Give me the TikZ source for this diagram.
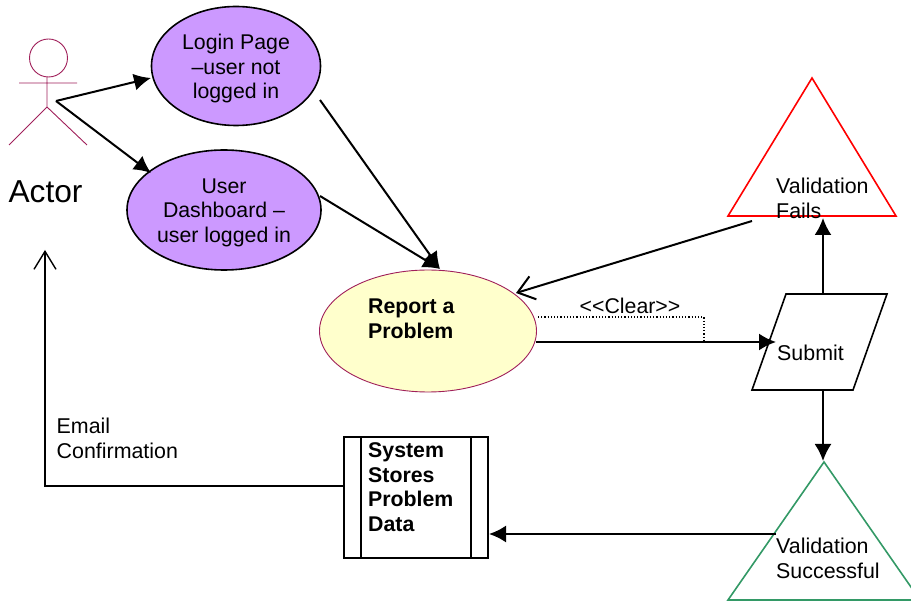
\documentclass[tikz,border=0pt]{standalone}
\usepackage{fontspec}
\setmainfont{Liberation Sans}
\usetikzlibrary{shapes.geometric,arrows.meta}
\definecolor{actorc}{HTML}{A0205A}
\definecolor{purplefill}{HTML}{CC99FF}
\definecolor{yellowfill}{HTML}{FFFFCC}
\definecolor{greenc}{HTML}{339966}
\tikzset{
  x=1pt,y=-1pt,
  txt/.style={inner sep=0pt,align=left,font=\fontsize{21.4}{24.6}\selectfont},
  ctxt/.style={inner sep=0pt,align=center,font=\fontsize{21.3}{24.6}\selectfont},
  btxt/.style={inner sep=0pt,align=left,font=\fontsize{21.3}{24.6}\selectfont\bfseries},
  usecase/.style={ellipse,draw=black,line width=1.6pt,fill=purplefill,inner sep=0pt},
  actorline/.style={draw=actorc,line width=0.9pt},
  conn/.style={draw=black,line width=2pt,-{Latex[length=17pt,width=17pt]}},
  openconn/.style={draw=black,line width=2pt,-{Straight Barb[length=16pt,width=24pt,line width=2pt]}},
}
\begin{document}
\begin{tikzpicture}
\useasboundingbox (0,0) rectangle (911,601);
% actor
\node[circle,actorline,minimum size=38pt,inner sep=0pt] (head) at (48.5,58) {};
\coordinate (neck) at (47,77);
\coordinate (hip) at (47,107);
\coordinate (armL) at (19,83);
\coordinate (armR) at (77,83);
\coordinate (footL) at (9,145);
\coordinate (footR) at (87,145);
\draw[actorline] (neck) -- (hip) (armL) -- (armR) (footL) -- (hip) -- (footR);
\node[inner sep=0pt,font=\fontsize{31.7}{36}\selectfont] (actor) at (45.5,192) {Actor};
\coordinate (actorhand) at (56,101);
% use cases
\node[usecase,minimum width=169pt,minimum height=119pt] (login) at (236,66) {};
\node[ctxt] (logintxt) at (236,68.5) {Login Page\\–user not\\logged in};
\node[usecase,minimum width=194pt,minimum height=120pt] (dash) at (224,210) {};
\node[ctxt] (dashtxt) at (224,212.5) {User\\Dashboard –\\user logged in};
\node[ellipse,draw=actorc,line width=0.9pt,fill=yellowfill,inner sep=0pt,minimum width=217pt,minimum height=122pt] (report) at (428,331) {};
\node[btxt,anchor=west] (reporttxt) at (368,318.5) {Report a\\Problem};
% triangles
\coordinate (rt) at (812,78);
\coordinate (rl) at (728,216);
\coordinate (rr) at (896,216);
\draw[draw=red,line width=1.6pt,line join=miter] (rt) -- (rr) -- (rl) -- cycle;
\node[txt,anchor=west] (fails) at (776,198.5) {Validation\\Fails};
\coordinate (gt) at (824,462);
\coordinate (gl) at (728,600);
\coordinate (gr) at (920,600);
\draw[draw=greenc,line width=1.6pt] (gt) -- (gr) -- (gl) -- cycle;
\node[txt,anchor=west] (succ) at (776,558.5) {Validation\\Successful};
% submit
\coordinate (p1) at (786,294);
\coordinate (p2) at (887,294);
\coordinate (p3) at (853,390);
\coordinate (p4) at (752,390);
\draw[line width=1.6pt] (p1) -- (p2) -- (p3) -- (p4) -- cycle;
\node[txt,anchor=west] (submit) at (777,353) {Submit};
% process
\node[draw,line width=1.6pt,minimum width=144pt,minimum height=121pt,inner sep=0pt] (proc) at (416,497.5) {};
\draw[line width=1.6pt] (361,437) -- (361,558) (471,437) -- (471,558);
\node[btxt,anchor=west] (proctxt) at (368,487) {System\\Stores\\Problem\\Data};
% labels
\node[txt,anchor=west] (email) at (56.5,438.5) {Email\\Confirmation};
\node[inner sep=0pt,font=\fontsize{21.3}{24}\selectfont] (clear) at (630,306) {<{}<Clear>{}>};
% connector ends
\coordinate (a1) at (151,78);
\coordinate (a2) at (151,173);
\coordinate (l1) at (320,100);
\coordinate (d1) at (320,196);
\coordinate (r1) at (440,269);
\coordinate (f1) at (752,221);
\coordinate (r2) at (516,293);
\coordinate (r3) at (536,342);
\coordinate (s1) at (776,342);
\coordinate (r4) at (538,317);
\coordinate (dk) at (704,317);
\coordinate (dk2) at (704,340);
\coordinate (s2) at (823,294);
\coordinate (f2) at (823,218);
\coordinate (s3) at (823,390);
\coordinate (g1) at (823,461);
\coordinate (g2) at (776,534);
\coordinate (pr) at (489,534);
\coordinate (pl) at (344,486);
\coordinate (bend) at (45,486);
\coordinate (up) at (45,250);
\draw[conn] (actorhand) -- (a1);
\draw[conn] (actorhand) -- (a2);
\draw[conn] (l1) -- (r1);
\draw[conn] (d1) -- (r1);
\draw[openconn] (f1) -- (r2);
\draw[conn] (r3) -- (s1);
\draw[line width=1.2pt,dotted] (r4) -- (dk) -- (dk2);
\draw[conn] (s2) -- (f2);
\draw[conn] (s3) -- (g1);
\draw[conn] (g2) -- (pr);
\draw[line width=1.4pt,-{Straight Barb[length=18pt,width=22pt,line width=1.4pt]}] (pl) -- (bend) -- (up);
\end{tikzpicture}
\end{document}
